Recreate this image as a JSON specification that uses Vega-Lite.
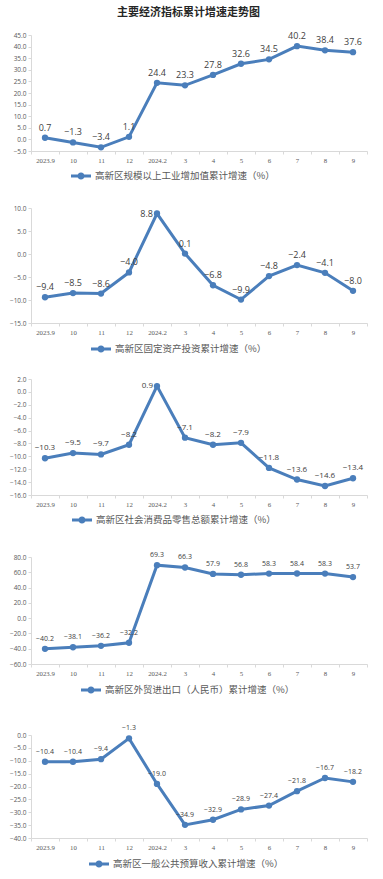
{
  "$schema": "https://vega.github.io/schema/vega-lite/v6.json",
  "padding": {"left": 9, "top": 7, "right": 5, "bottom": 5},
  "title": {"text": "主要经济指标累计增速走势图", "fontSize": 11, "font": "Noto Sans CJK SC", "fontWeight": "bold", "color": "#262626", "anchor": "middle", "offset": 14},
  "spacing": 16,
  "resolve": {"scale": {"color": "independent"}, "legend": {"color": "independent"}},
  "config": {
    "view": {"stroke": null},
    "axisX": {"title": null, "labelAngle": 0, "tickBand": "extent", "labelFont": "Liberation Serif", "labelFontSize": 6.8, "labelColor": "#595959", "domainColor": "#d9d9d9", "tickColor": "#d9d9d9", "tickSize": 3, "labelPadding": 3, "grid": false},
    "axisY": {"title": null, "format": ".1f", "labelFont": "Open Sans", "labelFontSize": 6.5, "labelColor": "#595959", "domainColor": "#d9d9d9", "tickColor": "#d9d9d9", "tickSize": 3, "labelPadding": 2, "grid": false},
    "legend": {"title": null, "orient": "none", "symbolType": "M-1,-0.15L1,-0.15L1,0.15L-1,0.15Z M-0.36,0A0.36,0.36 0 1,1 0.36,0A0.36,0.36 0 1,1 -0.36,0Z", "symbolSize": 400, "symbolStrokeWidth": 0, "labelFont": "Noto Sans CJK SC", "labelFontSize": 9.5, "labelColor": "#595959", "labelOffset": 4, "labelLimit": 400},
    "text": {"font": "Open Sans", "color": "#404040", "baseline": "middle"}
  },
  "vconcat": [
    {
      "width": 336, "height": 116,
      "data": {"values": [
        {"series": "高新区规模以上工业增加值累计增速（%）", "period": "2023.9", "value": 0.7},
        {"series": "高新区规模以上工业增加值累计增速（%）", "period": "10", "value": -1.3},
        {"series": "高新区规模以上工业增加值累计增速（%）", "period": "11", "value": -3.4},
        {"series": "高新区规模以上工业增加值累计增速（%）", "period": "12", "value": 1.1},
        {"series": "高新区规模以上工业增加值累计增速（%）", "period": "2024.2", "value": 24.4},
        {"series": "高新区规模以上工业增加值累计增速（%）", "period": "3", "value": 23.3},
        {"series": "高新区规模以上工业增加值累计增速（%）", "period": "4", "value": 27.8},
        {"series": "高新区规模以上工业增加值累计增速（%）", "period": "5", "value": 32.6},
        {"series": "高新区规模以上工业增加值累计增速（%）", "period": "6", "value": 34.5},
        {"series": "高新区规模以上工业增加值累计增速（%）", "period": "7", "value": 40.2},
        {"series": "高新区规模以上工业增加值累计增速（%）", "period": "8", "value": 38.4},
        {"series": "高新区规模以上工业增加值累计增速（%）", "period": "9", "value": 37.6}
      ]},
      "encoding": {
        "x": {"field": "period", "type": "ordinal", "sort": null, "scale": {"type": "band", "paddingInner": 0, "paddingOuter": 0}},
        "y": {"field": "value", "type": "quantitative", "scale": {"domain": [-5, 45], "nice": false, "zero": false}, "axis": {"values": [-5, 0, 5, 10, 15, 20, 25, 30, 35, 40, 45]}}
      },
      "layer": [
        {"mark": {"type": "line", "color": "#4A7EBB", "strokeWidth": 3}},
        {"mark": {"type": "point", "filled": true, "opacity": 1, "size": 40}, "encoding": {"color": {"field": "series", "type": "nominal", "scale": {"range": ["#4A7EBB"]}, "legend": {"legendX": 32, "legendY": 123, "padding": 8}}}},
        {"mark": {"type": "text", "dy": -10, "fontSize": 9}, "encoding": {"text": {"field": "value", "type": "quantitative", "format": ".1f"}}}
      ]
    },
    {
      "width": 336, "height": 115,
      "data": {"values": [
        {"series": "高新区固定资产投资累计增速（%）", "period": "2023.9", "value": -9.4},
        {"series": "高新区固定资产投资累计增速（%）", "period": "10", "value": -8.5},
        {"series": "高新区固定资产投资累计增速（%）", "period": "11", "value": -8.6},
        {"series": "高新区固定资产投资累计增速（%）", "period": "12", "value": -4.0},
        {"series": "高新区固定资产投资累计增速（%）", "period": "2024.2", "value": 8.8},
        {"series": "高新区固定资产投资累计增速（%）", "period": "3", "value": 0.1},
        {"series": "高新区固定资产投资累计增速（%）", "period": "4", "value": -6.8},
        {"series": "高新区固定资产投资累计增速（%）", "period": "5", "value": -9.9},
        {"series": "高新区固定资产投资累计增速（%）", "period": "6", "value": -4.8},
        {"series": "高新区固定资产投资累计增速（%）", "period": "7", "value": -2.4},
        {"series": "高新区固定资产投资累计增速（%）", "period": "8", "value": -4.1},
        {"series": "高新区固定资产投资累计增速（%）", "period": "9", "value": -8.0}
      ]},
      "encoding": {
        "x": {"field": "period", "type": "ordinal", "sort": null, "scale": {"type": "band", "paddingInner": 0, "paddingOuter": 0}},
        "y": {"field": "value", "type": "quantitative", "scale": {"domain": [-15, 10], "nice": false, "zero": false}, "axis": {"values": [-15, -10, -5, 0, 5, 10]}}
      },
      "layer": [
        {"mark": {"type": "line", "color": "#4A7EBB", "strokeWidth": 3}},
        {"mark": {"type": "point", "filled": true, "opacity": 1, "size": 40}, "encoding": {"color": {"field": "series", "type": "nominal", "scale": {"range": ["#4A7EBB"]}, "legend": {"legendX": 54, "legendY": 125, "padding": 6}}}},
        {"transform": [{"filter": "datum.period !== '2024.2'"}], "mark": {"type": "text", "dy": -10, "fontSize": 9}, "encoding": {"text": {"field": "value", "type": "quantitative", "format": ".1f"}}},
        {"transform": [{"filter": "datum.period === '2024.2'"}], "mark": {"type": "text", "dx": -4, "align": "right", "fontSize": 9}, "encoding": {"text": {"field": "value", "type": "quantitative", "format": ".1f"}}}
      ]
    },
    {
      "width": 336, "height": 116,
      "data": {"values": [
        {"series": "高新区社会消费品零售总额累计增速（%）", "period": "2023.9", "value": -10.3},
        {"series": "高新区社会消费品零售总额累计增速（%）", "period": "10", "value": -9.5},
        {"series": "高新区社会消费品零售总额累计增速（%）", "period": "11", "value": -9.7},
        {"series": "高新区社会消费品零售总额累计增速（%）", "period": "12", "value": -8.2},
        {"series": "高新区社会消费品零售总额累计增速（%）", "period": "2024.2", "value": 0.9},
        {"series": "高新区社会消费品零售总额累计增速（%）", "period": "3", "value": -7.1},
        {"series": "高新区社会消费品零售总额累计增速（%）", "period": "4", "value": -8.2},
        {"series": "高新区社会消费品零售总额累计增速（%）", "period": "5", "value": -7.9},
        {"series": "高新区社会消费品零售总额累计增速（%）", "period": "6", "value": -11.8},
        {"series": "高新区社会消费品零售总额累计增速（%）", "period": "7", "value": -13.6},
        {"series": "高新区社会消费品零售总额累计增速（%）", "period": "8", "value": -14.6},
        {"series": "高新区社会消费品零售总额累计增速（%）", "period": "9", "value": -13.4}
      ]},
      "encoding": {
        "x": {"field": "period", "type": "ordinal", "sort": null, "scale": {"type": "band", "paddingInner": 0, "paddingOuter": 0}},
        "y": {"field": "value", "type": "quantitative", "scale": {"domain": [-16, 2], "nice": false, "zero": false}, "axis": {"values": [-16, -14, -12, -10, -8, -6, -4, -2, 0, 2]}}
      },
      "layer": [
        {"mark": {"type": "line", "color": "#4A7EBB", "strokeWidth": 3}},
        {"mark": {"type": "point", "filled": true, "opacity": 1, "size": 40}, "encoding": {"color": {"field": "series", "type": "nominal", "scale": {"range": ["#4A7EBB"]}, "legend": {"legendX": 31, "legendY": 121, "padding": 10}}}},
        {"transform": [{"filter": "datum.period !== '2024.2'"}], "mark": {"type": "text", "dy": -10, "fontSize": 8}, "encoding": {"text": {"field": "value", "type": "quantitative", "format": ".1f"}}},
        {"transform": [{"filter": "datum.period === '2024.2'"}], "mark": {"type": "text", "dx": -4, "align": "right", "fontSize": 8}, "encoding": {"text": {"field": "value", "type": "quantitative", "format": ".1f"}}}
      ]
    },
    {
      "width": 336, "height": 107,
      "data": {"values": [
        {"series": "高新区外贸进出口（人民币）累计增速（%）", "period": "2023.9", "value": -40.2},
        {"series": "高新区外贸进出口（人民币）累计增速（%）", "period": "10", "value": -38.1},
        {"series": "高新区外贸进出口（人民币）累计增速（%）", "period": "11", "value": -36.2},
        {"series": "高新区外贸进出口（人民币）累计增速（%）", "period": "12", "value": -32.2},
        {"series": "高新区外贸进出口（人民币）累计增速（%）", "period": "2024.2", "value": 69.3},
        {"series": "高新区外贸进出口（人民币）累计增速（%）", "period": "3", "value": 66.3},
        {"series": "高新区外贸进出口（人民币）累计增速（%）", "period": "4", "value": 57.9},
        {"series": "高新区外贸进出口（人民币）累计增速（%）", "period": "5", "value": 56.8},
        {"series": "高新区外贸进出口（人民币）累计增速（%）", "period": "6", "value": 58.3},
        {"series": "高新区外贸进出口（人民币）累计增速（%）", "period": "7", "value": 58.4},
        {"series": "高新区外贸进出口（人民币）累计增速（%）", "period": "8", "value": 58.3},
        {"series": "高新区外贸进出口（人民币）累计增速（%）", "period": "9", "value": 53.7}
      ]},
      "encoding": {
        "x": {"field": "period", "type": "ordinal", "sort": null, "scale": {"type": "band", "paddingInner": 0, "paddingOuter": 0}},
        "y": {"field": "value", "type": "quantitative", "scale": {"domain": [-60, 80], "nice": false, "zero": false}, "axis": {"values": [-60, -40, -20, 0, 20, 40, 60, 80]}}
      },
      "layer": [
        {"mark": {"type": "line", "color": "#4A7EBB", "strokeWidth": 3}},
        {"mark": {"type": "point", "filled": true, "opacity": 1, "size": 40}, "encoding": {"color": {"field": "series", "type": "nominal", "scale": {"range": ["#4A7EBB"]}, "legend": {"legendX": 37, "legendY": 110, "padding": 13}}}},
        {"mark": {"type": "text", "dy": -10, "fontSize": 7}, "encoding": {"text": {"field": "value", "type": "quantitative", "format": ".1f"}}}
      ]
    },
    {
      "width": 336, "height": 103,
      "data": {"values": [
        {"series": "高新区一般公共预算收入累计增速（%）", "period": "2023.9", "value": -10.4},
        {"series": "高新区一般公共预算收入累计增速（%）", "period": "10", "value": -10.4},
        {"series": "高新区一般公共预算收入累计增速（%）", "period": "11", "value": -9.4},
        {"series": "高新区一般公共预算收入累计增速（%）", "period": "12", "value": -1.3},
        {"series": "高新区一般公共预算收入累计增速（%）", "period": "2024.2", "value": -19.0},
        {"series": "高新区一般公共预算收入累计增速（%）", "period": "3", "value": -34.9},
        {"series": "高新区一般公共预算收入累计增速（%）", "period": "4", "value": -32.9},
        {"series": "高新区一般公共预算收入累计增速（%）", "period": "5", "value": -28.9},
        {"series": "高新区一般公共预算收入累计增速（%）", "period": "6", "value": -27.4},
        {"series": "高新区一般公共预算收入累计增速（%）", "period": "7", "value": -21.8},
        {"series": "高新区一般公共预算收入累计增速（%）", "period": "8", "value": -16.7},
        {"series": "高新区一般公共预算收入累计增速（%）", "period": "9", "value": -18.2}
      ]},
      "encoding": {
        "x": {"field": "period", "type": "ordinal", "sort": null, "scale": {"type": "band", "paddingInner": 0, "paddingOuter": 0}},
        "y": {"field": "value", "type": "quantitative", "scale": {"domain": [-40, 0], "nice": false, "zero": false}, "axis": {"values": [-40, -35, -30, -25, -20, -15, -10, -5, 0]}}
      },
      "layer": [
        {"mark": {"type": "line", "color": "#4A7EBB", "strokeWidth": 3}},
        {"mark": {"type": "point", "filled": true, "opacity": 1, "size": 40}, "encoding": {"color": {"field": "series", "type": "nominal", "scale": {"range": ["#4A7EBB"]}, "legend": {"legendX": 53, "legendY": 114, "padding": 5}}}},
        {"mark": {"type": "text", "dy": -10, "fontSize": 7}, "encoding": {"text": {"field": "value", "type": "quantitative", "format": ".1f"}}}
      ]
    }
  ]
}
